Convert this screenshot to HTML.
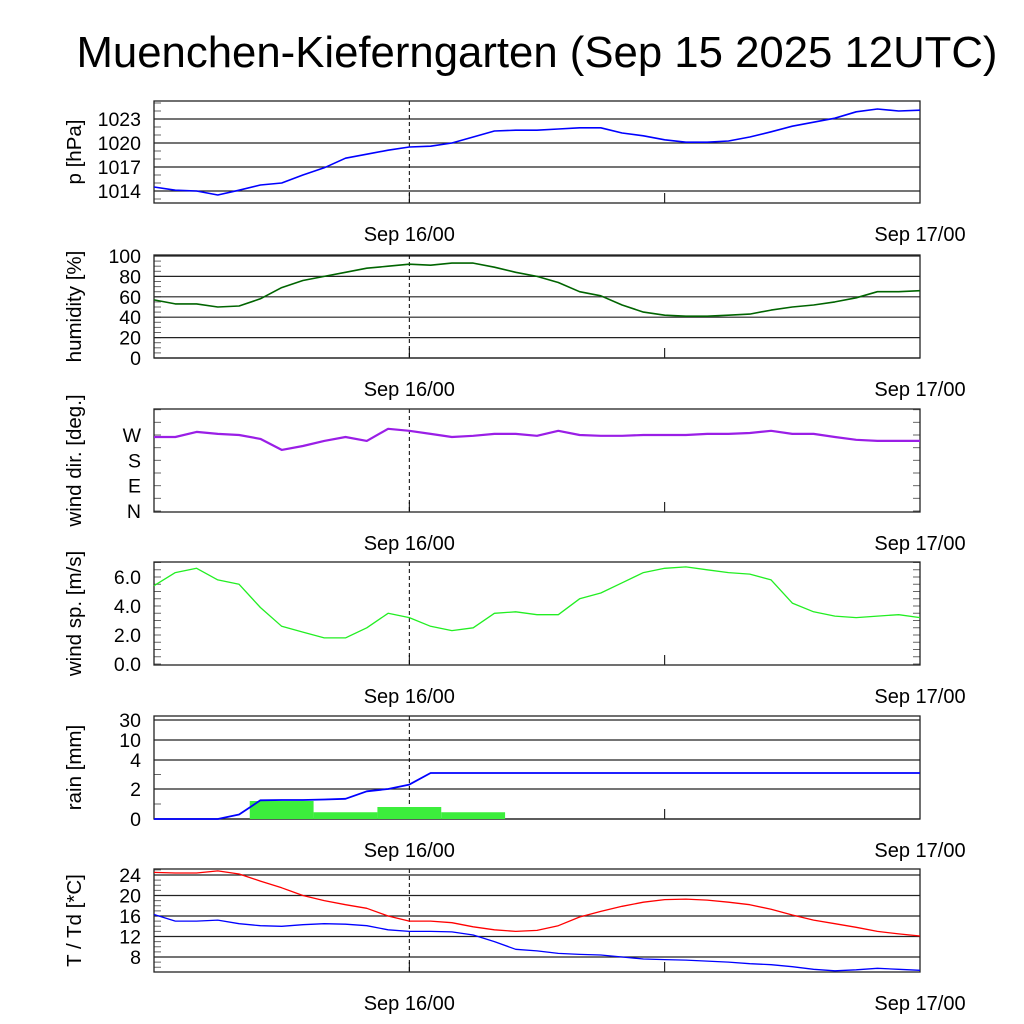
<!DOCTYPE html>
<html><head><meta charset="utf-8"><style>
html,body{margin:0;padding:0;background:#fff;width:1024px;height:1024px;overflow:hidden}
svg{display:block}
text{font-family:"Liberation Sans",sans-serif;fill:#000}
</style></head><body>
<svg id="chart" width="1024" height="1024" viewBox="0 0 1024 1024">
<text x="537" y="67" font-size="44" text-anchor="middle" textLength="921" lengthAdjust="spacingAndGlyphs">Muenchen-Kieferngarten (Sep 15 2025 12UTC)</text>
</svg>
<script>
const hours = [0,1,2,3,4,5,6,7,8,9,10,11,12,13,14,15,16,17,18,19,20,21,22,23,24,25,26,27,28,29,30,31,32,33,34,35,36];
const timeLabels = ["Sep 16/00","Sep 17/00"];
const timeLabelHours = [12,36];
const pressure = [1014.5,1014.1,1014.0,1013.5,1014.1,1014.75,1015.0,1016.0,1016.9,1018.1,1018.6,1019.1,1019.5,1019.6,1020.0,1020.75,1021.5,1021.6,1021.6,1021.75,1021.9,1021.9,1021.25,1020.9,1020.4,1020.1,1020.1,1020.25,1020.75,1021.4,1022.1,1022.6,1023.1,1023.9,1024.25,1024.0,1024.1];
const humidity = [57,53,53,50,51,58,69,76,80,84,88,90,92,91,93,93,89,84,80,74,65,61,52,45,42,41,41,42,43,47,50,52,55,59,65,65,66];
const windDir = [263,263,281,274,270,256,217,231,249,263,249,292,285,274,263,267,274,274,267,285,270,267,267,270,270,270,274,274,277,285,274,274,263,253,249,249,249];
const windSpeed = [5.4,6.3,6.6,5.8,5.5,3.9,2.6,2.2,1.8,1.8,2.5,3.5,3.2,2.6,2.3,2.5,3.5,3.6,3.4,3.4,4.5,4.9,5.6,6.3,6.6,6.7,6.5,6.3,6.2,5.8,4.2,3.6,3.3,3.2,3.3,3.4,3.2];
const rainCum = [0,0,0,0,0.3,1.25,1.27,1.27,1.3,1.35,1.85,2.0,2.3,3.1,3.1,3.1,3.1,3.1,3.1,3.1,3.1,3.1,3.1,3.1,3.1,3.1,3.1,3.1,3.1,3.1,3.1,3.1,3.1,3.1,3.1,3.1,3.1];
const rainBarStart = [4.5,7.5,10.5,13.5];
const rainBarAmount = [1.2,0.45,0.8,0.45];
const temp = [24.5,24.4,24.4,24.8,24.2,22.8,21.5,20.0,19.0,18.2,17.5,16.0,15.0,15.0,14.7,13.9,13.3,13.0,13.2,14.1,15.8,16.9,17.9,18.7,19.2,19.3,19.1,18.7,18.2,17.3,16.2,15.2,14.5,13.8,13.0,12.5,12.1];
const dewpoint = [16.3,15.0,15.0,15.2,14.5,14.1,14.0,14.3,14.5,14.4,14.1,13.3,13.0,13.0,12.9,12.3,11.0,9.5,9.2,8.7,8.5,8.4,8.0,7.6,7.5,7.4,7.2,7.0,6.7,6.5,6.1,5.6,5.3,5.5,5.8,5.6,5.4];
const pTicks = [1014,1017,1020,1023];
const hTicks = [0,20,40,60,80,100];
const dirTicks = ["N","E","S","W"];
const wsTicks = ["0.0","2.0","4.0","6.0"];
const rainTicks = ["0","2","4","10","30"];
const tTicks = [8,12,16,20,24];

const svg = document.getElementById('chart');
const NS = 'http://www.w3.org/2000/svg';
const X0 = 154, X1 = 920;
function xs(h){ return X0 + h*(X1-X0)/36; }
function mk(tag, attrs, parent){ const e=document.createElementNS(NS,tag); for(const k in attrs) e.setAttribute(k,attrs[k]); (parent||svg).appendChild(e); return e; }
function lin(v0,y0,v1,y1){ return v => y0 + (v-v0)*(y1-y0)/(v1-v0); }
function rainY(v){ const vs=[0,2,4,10,30], ys=[819,789,760,740,720]; for(let i=0;i<4;i++){ if(v<=vs[i+1]) return ys[i]+(v-vs[i])*(ys[i+1]-ys[i])/(vs[i+1]-vs[i]); } return 720; }

function panel(name, top, bottom, title, tickVals, tickLabels, ys, grid, minor, rightTicks){
  const g = mk('g', {});
  
  
  minor.forEach(v => { const y=ys(v); mk('line',{x1:X0,x2:X0+7,y1:y,y2:y,stroke:'#666','stroke-width':1},g); if(rightTicks) mk('line',{x1:X1-7,x2:X1,y1:y,y2:y,stroke:'#666','stroke-width':1},g); });
  tickVals.forEach((v,i) => {
    const y = ys(v);
    if (grid) { const l=mk('line',{x1:X0,x2:X1,y1:y,y2:y,stroke:'#222','stroke-width':1.2},g);   }
    const t = mk('text',{x:141,y:y+7,'font-size':19.5,'text-anchor':'end'},g);
    t.textContent = tickLabels[i];
    
    
  });
  mk('line',{x1:xs(12),x2:xs(12),y1:top,y2:bottom,stroke:'#000','stroke-width':1,'stroke-dasharray':'4,3'},g);
  [12,24,36].forEach(h => mk('line',{x1:xs(h),x2:xs(h),y1:bottom-10,y2:bottom,stroke:'#000','stroke-width':1},g));
  const fr = mk('rect',{x:X0,y:top,width:X1-X0,height:bottom-top,fill:'none',stroke:'#222','stroke-width':1.3},g);
  
  
  const cy = (top+bottom)/2;
  const tt = mk('text',{x:0,y:0,'font-size':20.5,'text-anchor':'middle',transform:'translate(81,'+cy+') rotate(-90)'},g);
  tt.textContent = title;
  
  
  timeLabelHours.forEach((h,i) => {
    const t = mk('text',{x:xs(h),y:bottom+38,'font-size':20,'text-anchor':'middle'},g);
    t.textContent = timeLabels[i];
    
    
  });
  return g;
}
function series(g, vals, ys, color, w, name){
  const d = vals.map((v,i) => (i?'L':'M') + xs(hours[i]).toFixed(1) + ',' + ys(v).toFixed(1)).join(' ');
  const p = mk('path',{d:d,fill:'none',stroke:color,'stroke-width':w,'stroke-linejoin':'round'},g);
  
  
}
function range(a,b,s){ const r=[]; for(let v=a; v<=b+1e-9; v+=s) r.push(+v.toFixed(3)); return r; }

const yP = lin(1023,119,1014,191);
let g = panel('pressure',101,203,'p [hPa]',pTicks,pTicks.map(String),yP,true,range(1013,1025,1),false);
series(g, pressure, yP, '#0000ff', 1.6, 'pressure-line');
const yH = lin(0,358,100,256);
g = panel('humidity',255,358,'humidity [%]',hTicks,hTicks.map(String),yH,true,range(0,100,5),false);
series(g, humidity, yH, '#006400', 1.6, 'humidity-line');
const yD = lin(0,511,270,435);
g = panel('wind-direction',409,512,'wind dir. [deg.]',[0,90,180,270],dirTicks,yD,false,range(0,360,45),true);
series(g, windDir, yD, '#9a1ee6', 2.2, 'wind-direction-line');
const yS = lin(0,664,6,577);
g = panel('wind-speed',562,665,'wind sp. [m/s]',[0,2,4,6],wsTicks,yS,false,range(0,7,0.5),true);
series(g, windSpeed, yS, '#22ee22', 1.3, 'wind-speed-line');
g = panel('rain',716,819,'rain [mm]',[0,2,4,10,30],rainTicks,rainY,true,[1,3],false);
rainBarStart.forEach((h,i) => {
  const y = rainY(rainBarAmount[i]);
  const r = mk('rect',{x:xs(h),y:y,width:xs(h+3)-xs(h),height:rainY(0)-y,fill:'#3cee3c'},g);
  
  
});
series(g, rainCum, rainY, '#0000ff', 1.8, 'rain-cumulative-line');
const yT = lin(24,875,8,957);
g = panel('temperature',869,972,'T / Td [*C]',tTicks,tTicks.map(String),yT,true,range(6,25,1),false);
series(g, temp, yT, '#ff0000', 1.3, 'temperature-line');
series(g, dewpoint, yT, '#0000ff', 1.3, 'dewpoint-line');
</script>
</body></html>
